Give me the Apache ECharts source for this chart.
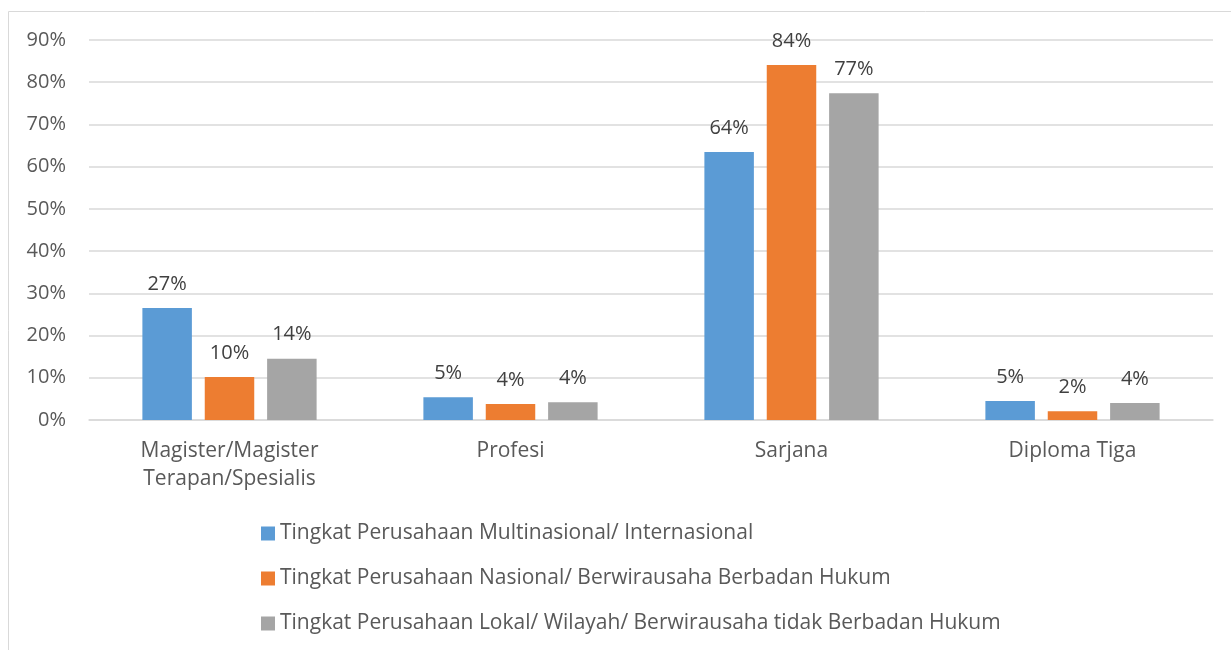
<!DOCTYPE html>
<html>
<head>
<meta charset="utf-8">
<script src="https://cdn.jsdelivr.net/npm/echarts@6/dist/echarts.min.js"></script>
<style>
  html, body { margin: 0; padding: 0; background: #fff; }
  #main { width: 1231px; height: 650px; }
</style>
</head>
<body>
<div id="main"></div>
<script>
// data (fractions)
var categories = ['Magister/Magister\nTerapan/Spesialis', 'Profesi', 'Sarjana', 'Diploma Tiga'];
var seriesNames = [
  'Tingkat Perusahaan Multinasional/ Internasional',
  'Tingkat Perusahaan Nasional/ Berwirausaha Berbadan Hukum',
  'Tingkat Perusahaan Lokal/ Wilayah/ Berwirausaha tidak Berbadan Hukum'
];
var multinasional = [0.265, 0.054, 0.635, 0.045];
var nasional = [0.102, 0.038, 0.841, 0.021];
var lokal = [0.145, 0.042, 0.774, 0.040];
var colors = ['#5b9bd5', '#ed7d31', '#a5a5a5'];

var myChart = echarts.init(document.getElementById('main'));
var font = '"Open Sans", "Noto Sans", sans-serif';

var makeSeries = function (name, data, idx) {
  return {
    name: name,
    type: 'bar',
    data: data,
    barGap: '26%',
    barCategoryGap: '38%',
    itemStyle: { color: colors[idx] },
    label: {
      show: true,
      position: 'top',
      distance: 14,
      color: '#404040',
      fontSize: 20,
      fontFamily: font,
      formatter: function (p) { return Math.round(p.value * 100) + '%'; }
    }
  };
};

var option = {
  animation: false,
  textStyle: { fontFamily: font },
  graphic: [{
    type: 'polyline',
    shape: { points: [[8.5, 650], [8.5, 11.5], [1231, 11.5]] },
    style: { stroke: '#d9d9d9', lineWidth: 1, fill: null }
  }],
  grid: { left: 89, right: 18, top: 40, bottom: 230 },
  legend: {
    orient: 'vertical',
    left: 256,
    top: 517,
    itemWidth: 14,
    itemHeight: 14,
    itemGap: 22,
    icon: 'rect',
    textStyle: { fontSize: 21, color: '#595959', lineHeight: 23, fontFamily: font },
    data: seriesNames
  },
  xAxis: {
    type: 'category',
    data: categories,
    axisLine: { lineStyle: { color: '#d9d9d9', width: 1.5 } },
    axisTick: { show: false },
    axisLabel: { color: '#595959', fontSize: 21, lineHeight: 28, margin: 17, fontFamily: font }
  },
  yAxis: {
    type: 'value',
    min: 0,
    max: 0.9,
    interval: 0.1,
    axisLine: { show: false },
    axisTick: { show: false },
    splitLine: { lineStyle: { color: '#d9d9d9', width: 1.5 } },
    axisLabel: {
      color: '#595959',
      fontSize: 20,
      margin: 23,
      fontFamily: font,
      formatter: function (v) { return Math.round(v * 100) + '%'; }
    }
  },
  series: [
    makeSeries(seriesNames[0], multinasional, 0),
    makeSeries(seriesNames[1], nasional, 1),
    makeSeries(seriesNames[2], lokal, 2)
  ]
};
myChart.setOption(option);
</script>
</body>
</html>
